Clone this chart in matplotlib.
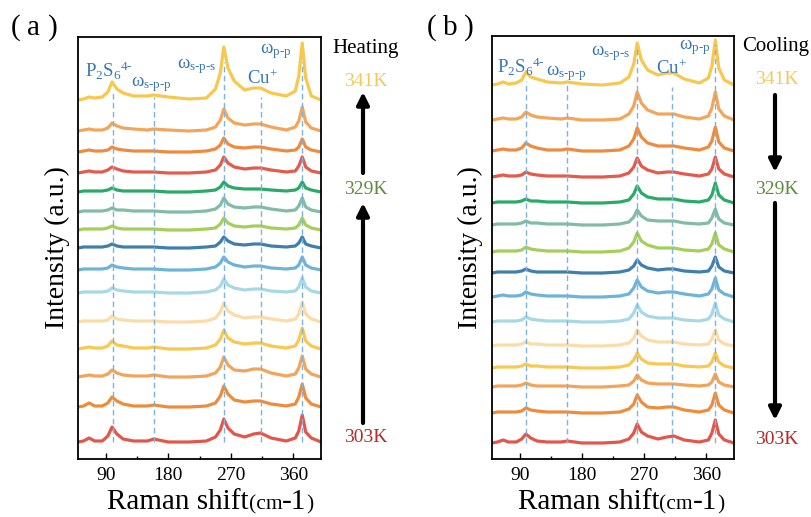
import numpy as np
import matplotlib
matplotlib.use("Agg")
import matplotlib.pyplot as plt

plt.rcParams['font.family'] = ['Liberation Serif', 'Noto Sans CJK SC', 'DejaVu Sans']
plt.rcParams['mathtext.fontset'] = 'custom'
plt.rcParams['mathtext.rm'] = 'Liberation Serif'
plt.rcParams['mathtext.it'] = 'Liberation Serif:italic'

# Raman shift sample points (cm-1)
shift = [50, 58, 66, 74, 85, 93, 99, 106, 115, 130, 150, 159, 180, 210, 235, 248,
         255, 260, 266, 275, 290, 303, 313, 328, 350, 363, 368, 373, 378, 386, 400]

# curve colours, 341K (top) -> 303K (bottom)
colors = ['#F8C84E', '#F3A65A', '#EE8B3E', '#E45B4B', '#2AAA67', '#82BBA6', '#A5CF59',
          '#3F7FAE', '#6DB4D8', '#A7D8E6', '#FCDCA6', '#F8C850', '#F2A55A', '#EE8C3C', '#E2574A']

# heating spectra (height above each curve's own baseline), top -> bottom
heat_offsets = [359, 328, 307, 286, 267, 247, 229, 211, 189, 166, 137, 110, 82, 52, 17]
heat_spectra = [
    [0, 1, 3, 2, 3, 8, 18, 11, 7, 4, 4, 5, 3, 1, 2, 11, 27, 53, 32, 19, 10, 12, 12, 7, 4, 9, 24, 57, 22, 4, 0],
    [0, 1, 2, 1, 1, 3, 8, 5, 3, 2, 1, 2, 1, 0, 1, 4, 11, 22, 13, 8, 6, 7, 7, 4, 1, 4, 10, 24, 9, 3, 0],
    [0, 1, 2, 1, 1, 2, 5, 3, 2, 1, 1, 1, 0, 0, 1, 3, 7, 14, 8, 5, 4, 5, 5, 3, 1, 2, 5, 13, 5, 2, 0],
    [0, 1, 2, 1, 1, 3, 6, 4, 2, 1, 1, 1, 0, 0, 1, 3, 8, 16, 10, 6, 4, 5, 5, 3, 1, 2, 7, 16, 6, 2, 0],
    [0, 1, 1, 1, 1, 2, 4, 2, 1, 1, 1, 1, 0, 0, 1, 2, 5, 10, 6, 4, 3, 3, 3, 2, 1, 2, 4, 10, 4, 2, 0],
    [0, 1, 1, 1, 1, 2, 4, 2, 2, 1, 1, 1, 0, 0, 1, 3, 7, 14, 8, 5, 4, 5, 5, 3, 1, 2, 6, 14, 5, 2, 0],
    [0, 1, 1, 1, 1, 2, 4, 2, 1, 1, 1, 1, 0, 0, 1, 2, 6, 12, 7, 4, 3, 4, 4, 2, 1, 2, 5, 12, 5, 2, 0],
    [0, 1, 1, 1, 1, 2, 4, 2, 1, 1, 1, 1, 0, 0, 1, 2, 6, 11, 7, 4, 3, 4, 4, 2, 1, 2, 5, 11, 4, 2, 0],
    [0, 1, 1, 1, 1, 2, 5, 3, 2, 1, 1, 1, 0, 0, 1, 3, 7, 13, 8, 5, 3, 4, 4, 2, 1, 2, 5, 13, 5, 2, 0],
    [0, 1, 1, 1, 1, 2, 5, 3, 2, 1, 1, 1, 0, 0, 1, 3, 7, 14, 8, 5, 3, 4, 4, 2, 1, 2, 6, 15, 6, 2, 0],
    [0, 1, 1, 1, 1, 2, 6, 3, 2, 1, 1, 1, 0, 0, 1, 4, 10, 19, 11, 7, 4, 5, 5, 3, 1, 3, 8, 20, 8, 3, 0],
    [0, 1, 2, 1, 1, 3, 8, 4, 3, 1, 1, 2, 0, 0, 1, 4, 10, 19, 11, 7, 5, 6, 6, 3, 1, 3, 9, 21, 8, 3, 0],
    [0, 1, 2, 1, 1, 3, 7, 4, 2, 1, 1, 2, 0, 0, 1, 4, 10, 20, 12, 7, 6, 8, 8, 4, 1, 3, 9, 21, 8, 3, 0],
    [0, 1, 4, 1, 1, 4, 10, 6, 3, 1, 1, 2, 0, 0, 1, 4, 11, 21, 13, 7, 5, 6, 6, 3, 1, 3, 10, 23, 9, 3, 0],
    [0, 1, 4, 1, 1, 6, 15, 8, 3, 1, 1, 3, 0, 0, 1, 5, 12, 23, 14, 8, 5, 8, 9, 4, 1, 4, 11, 27, 10, 4, 0],
]

# cooling spectra, top -> bottom
cool_offsets = [374, 339, 308, 282, 256, 234, 207, 186, 162, 137, 113, 91, 72, 46, 16]
cool_spectra = [
    [0, 1, 3, 1, 2, 5, 13, 8, 6, 3, 2, 3, 1, 0, 2, 8, 21, 42, 25, 15, 10, 12, 12, 6, 2, 7, 19, 45, 17, 5, 0],
    [0, 1, 2, 1, 1, 3, 8, 5, 3, 2, 1, 2, 0, 0, 1, 6, 14, 28, 17, 10, 6, 6, 6, 3, 1, 4, 12, 28, 11, 4, 0],
    [0, 1, 2, 1, 1, 3, 8, 5, 3, 1, 1, 2, 0, 0, 1, 5, 12, 23, 14, 8, 5, 5, 5, 3, 1, 4, 10, 24, 9, 3, 0],
    [0, 1, 2, 1, 1, 2, 5, 3, 2, 1, 1, 1, 0, 0, 1, 4, 10, 19, 11, 7, 4, 5, 5, 3, 1, 3, 8, 20, 8, 3, 0],
    [0, 1, 1, 1, 1, 2, 4, 2, 2, 1, 1, 1, 0, 0, 1, 3, 9, 17, 10, 6, 4, 4, 4, 2, 1, 3, 8, 20, 8, 3, 0],
    [0, 1, 1, 1, 1, 2, 4, 2, 2, 1, 1, 1, 0, 0, 1, 3, 8, 15, 9, 5, 4, 4, 4, 2, 1, 2, 7, 16, 6, 2, 0],
    [0, 1, 1, 1, 1, 2, 5, 3, 2, 1, 1, 1, 0, 0, 1, 4, 10, 19, 11, 7, 4, 4, 4, 2, 1, 3, 8, 19, 7, 3, 0],
    [0, 1, 1, 1, 1, 2, 4, 2, 1, 1, 1, 1, 0, 0, 1, 3, 7, 13, 8, 5, 3, 4, 4, 2, 1, 2, 7, 16, 6, 2, 0],
    [0, 1, 2, 1, 1, 2, 5, 3, 2, 1, 1, 1, 0, 0, 1, 3, 9, 17, 10, 6, 4, 5, 5, 3, 1, 3, 8, 19, 7, 3, 0],
    [0, 1, 1, 1, 1, 2, 5, 3, 2, 1, 1, 1, 0, 0, 1, 3, 9, 17, 10, 6, 4, 4, 4, 2, 1, 3, 8, 19, 7, 3, 0],
    [0, 1, 1, 1, 1, 2, 4, 2, 2, 1, 1, 1, 0, 0, 1, 3, 8, 16, 10, 6, 4, 4, 4, 2, 1, 2, 7, 16, 6, 2, 0],
    [0, 1, 1, 1, 1, 2, 4, 2, 2, 1, 1, 1, 0, 0, 1, 3, 8, 15, 9, 5, 4, 4, 4, 2, 1, 2, 6, 15, 6, 2, 0],
    [0, 1, 1, 1, 1, 2, 4, 2, 1, 1, 1, 1, 0, 0, 1, 2, 6, 12, 7, 4, 3, 3, 3, 2, 1, 2, 5, 13, 5, 2, 0],
    [0, 1, 1, 1, 1, 2, 5, 3, 2, 1, 1, 1, 0, 0, 1, 4, 9, 18, 11, 6, 5, 6, 6, 3, 1, 3, 8, 20, 8, 3, 0],
    [0, 1, 3, 1, 1, 4, 9, 5, 2, 1, 1, 2, 0, 0, 1, 4, 10, 19, 11, 7, 4, 6, 7, 3, 1, 3, 10, 23, 9, 3, 0],
]

# peak guide lines (cm-1) and the top end of each dashed line
heat_peaks = [100, 159, 260, 313, 373]
heat_peak_top = [366, 362, 397, 362, 397]
cool_peaks = [99, 159, 260, 311, 372]
cool_peak_top = [378, 374, 412, 372, 415]

peak_labels = ['P$_2$S$_6$$^{\\mathrm{4‐}}$', 'ω$_{\\mathrm{s‐p‐p}}$', 'ω$_{\\mathrm{s‐p‐s}}$',
               'Cu$^{+}$', 'ω$_{\\mathrm{p‐p}}$']
ticks = [90, 180, 270, 360]
temps = ['341K', '329K', '303K']
temp_colors = ['#F5C85A', '#5E8C3E', '#B22A2A']

W, H = 811, 517
fig = plt.figure(figsize=(W / 100, H / 100), dpi=100)
renderer = fig.canvas.get_renderer()
label_blue = '#3677B5'


def px(x, y):
    # image pixel (from top-left) -> figure fraction
    return x / W, 1 - y / H


def panel(rect, offsets, spectra, peaks, peak_top, top):
    ax = fig.add_axes(rect)
    for off, ys, c in zip(offsets, spectra, colors):
        ax.plot(shift, np.array(ys) + off, color=c, lw=2.3, zorder=2,
                solid_joinstyle='round')
    ax.vlines(peaks, offsets[-1], peak_top, colors='#7FB2DE', linestyles=(0, (4, 2.5)),
              lw=1.0, zorder=3)
    ax.set_xlim(50, 400)
    ax.set_ylim(0, top)
    ax.set_yticks([])
    ax.set_xticks(ticks)
    ax.set_xticks([135, 225, 315], minor=True)
    ax.tick_params(axis='x', which='major', direction='in', length=4, width=1,
                   labelsize=14, pad=6)
    ax.tick_params(axis='x', which='minor', direction='in', length=2.5, width=1)
    for s in ax.spines.values():
        s.set_linewidth(1.3)
    return ax


ax1 = panel([78 / W, 58 / H, 243 / W, 422 / H], heat_offsets, heat_spectra,
            heat_peaks, heat_peak_top, 422)
ax2 = panel([492 / W, 58 / H, 242 / W, 423 / H], cool_offsets, cool_spectra,
            cool_peaks, cool_peak_top, 423)

# peak labels (image pixel centres)
heat_lab_pos = [(109, 71), (151, 84), (197, 66), (262, 79), (276, 51)]
cool_lab_pos = [(521, 67), (566, 73), (611, 53), (671, 69), (695, 47)]
for lab, (x, y) in zip(peak_labels, heat_lab_pos):
    fig.text(*px(x, y), lab, color=label_blue, fontsize=13.5, ha='center', va='center')
for lab, (x, y) in zip(peak_labels, cool_lab_pos):
    fig.text(*px(x, y), lab, color=label_blue, fontsize=13.5, ha='center', va='center')

# panel letters, wide parentheses
for x0, letter in [(16, 'a'), (432, 'b')]:
    fig.text(*px(x0, 28), '(', fontsize=21, ha='center', va='center')
    fig.text(*px(x0 + 18, 28), letter, fontsize=21, ha='center', va='center')
    fig.text(*px(x0 + 37, 28), ')', fontsize=21, ha='center', va='center')

# y labels
fig.text(*px(57, 248), 'Intensity (a.u.)', fontsize=20, rotation=90, ha='center', va='center')
fig.text(*px(470, 248), 'Intensity (a.u.)', fontsize=20, rotation=90, ha='center', va='center')


# x labels with mixed sizes
def raman_label(x0, ybase):
    x = x0
    for s, size in [('Raman shift', 21), ('(cm', 15.5), ('-1', 21), (')', 15.5)]:
        t = fig.text(x / W, ybase / H, s, fontsize=size, ha='left', va='baseline')
        x += t.get_window_extent(renderer).width


raman_label(107, 8)
raman_label(518, 8)

# heating / cooling side annotations
fig.text(*px(366, 48), 'Heating', fontsize=15, ha='center', va='center')
fig.text(*px(776, 46), 'Cooling', fontsize=15, ha='center', va='center')
for xc, ys in [(366, [81, 190, 437]), (777, [80, 189, 440])]:
    for t, c, y in zip(temps, temp_colors, ys):
        fig.text(*px(xc, y), t, color=c, fontsize=14, ha='center', va='center')

arrow = dict(arrowstyle='-|>', color='black', lw=3, mutation_scale=18, shrinkA=0, shrinkB=0)
for (x, y0, y1) in [(363, 173, 92), (363, 423, 203), (775, 95, 172), (775, 203, 420)]:
    fig.add_artist(matplotlib.patches.FancyArrowPatch(px(x, y0), px(x, y1),
                                                      transform=fig.transFigure, **arrow))

fig.savefig('out.png', dpi=100)
